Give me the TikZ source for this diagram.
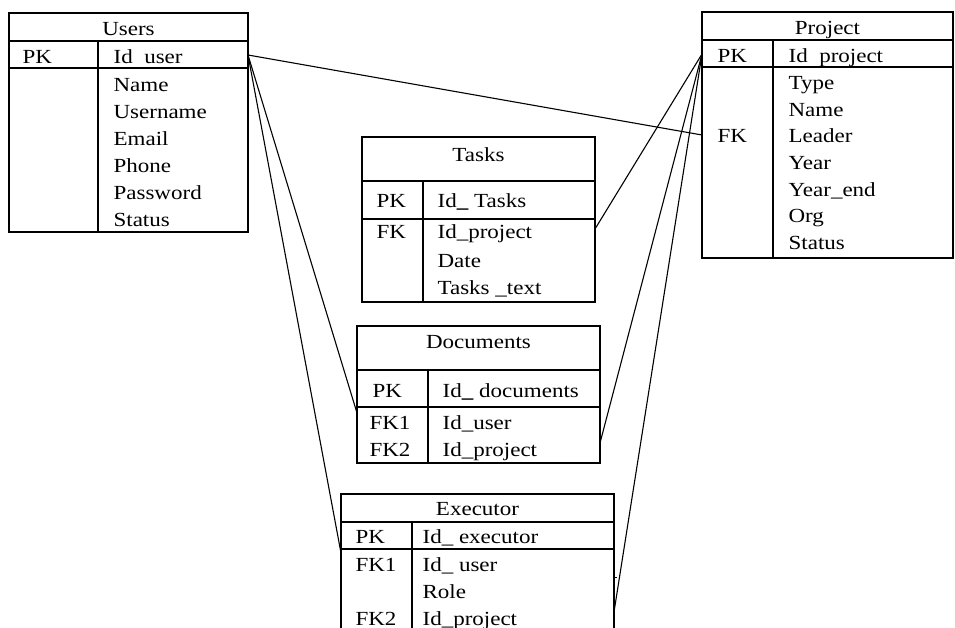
\documentclass[tikz,border=0pt]{standalone}
\usepackage{fontspec}
\setmainfont{Liberation Serif}[FakeStretch=1.15]
\begin{document}
\begin{tikzpicture}[x=1pt,y=-1pt,
  line width=1.2pt,
  tbl/.style={draw=black, line width=1.2pt},
  fld/.style={anchor=base west, inner sep=0pt, font=\fontsize{20}{22}\selectfont},
  ttl/.style={anchor=base, inner sep=0pt, font=\fontsize{20}{22}\selectfont},
  link/.style={draw=black, line width=1.1pt}]
\useasboundingbox (0,0) rectangle (955,628);

% ---------- Users ----------
\draw[tbl] (9,13) rectangle (248,232);
\draw[tbl] (9,41) -- (248,41) (9,68) -- (248,68) (98,41) -- (98,232);
\node[ttl] (usersT) at (128.5,36) {Users};
\node[fld] (usersPK) at (22,64) {PK};
\node[fld] (usersId) at (113,64) {Id\ \ user};
\node[fld] (usersF1) at (113,92) {Name};
\node[fld] (usersF2) at (113,119) {Username};
\node[fld] (usersF3) at (113,146) {Email};
\node[fld] (usersF4) at (113,173) {Phone};
\node[fld] (usersF5) at (113,200) {Password};
\node[fld] (usersF6) at (113,227) {Status};
\coordinate (usersLink) at (248,55);

% ---------- Project ----------
\draw[tbl] (702,12) rectangle (953,258);
\draw[tbl] (702,40) -- (953,40) (702,67) -- (953,67) (773,40) -- (773,258);
\node[ttl] (projT) at (827.5,35) {Project};
\node[fld] (projPK) at (717,63) {PK};
\node[fld] (projId) at (788,63) {Id\ \ project};
\node[fld] (projF1) at (788,90) {Type};
\node[fld] (projF2) at (788,117) {Name};
\node[fld] (projFK) at (717,143) {FK};
\node[fld] (projF3) at (788,143) {Leader};
\node[fld] (projF4) at (788,170) {Year};
\node[fld] (projF5) at (788,197) {Year\_end};
\node[fld] (projF6) at (788,223) {Org};
\node[fld] (projF7) at (788,250) {Status};
\coordinate (projLink) at (702,54);
\coordinate (projLeader) at (702,135);

% ---------- Tasks ----------
\draw[tbl] (362,137) rectangle (595,302);
\draw[tbl] (362,181) -- (595,181) (362,219) -- (595,219) (423,181) -- (423,303);
\node[ttl] (tasksT) at (478.5,162) {Tasks};
\node[fld] (tasksPK) at (376,208) {PK};
\node[fld] (tasksId) at (437,208) {Id\textbf{\_} Tasks};
\node[fld] (tasksFK) at (376,239) {FK};
\node[fld] (tasksF1) at (437,239) {Id\_project};
\node[fld] (tasksF2) at (437,267) {Date};
\node[fld] (tasksF3) at (437,294) {Tasks \_text};
\coordinate (tasksLink) at (595,229);

% ---------- Documents ----------
\draw[tbl] (357,326) rectangle (600,463);
\draw[tbl] (357,370) -- (600,370) (357,407) -- (600,407) (428,370) -- (428,463);
\node[ttl] (docsT) at (478.5,348) {Documents};
\node[fld] (docsPK) at (372,397) {PK};
\node[fld] (docsId) at (442,397) {Id\textbf{\_} documents};
\node[fld] (docsFK1) at (369,429) {FK1};
\node[fld] (docsF1) at (442,429) {Id\_user};
\node[fld] (docsFK2) at (369,456) {FK2};
\node[fld] (docsF2) at (442,456) {Id\_project};
\coordinate (docsUser) at (357,413);
\coordinate (docsProj) at (600,443);

% ---------- Executor (runs past the lower edge) ----------
\draw[tbl] (341,640) -- (341,494) -- (614,494) -- (614,640);
\draw[tbl] (341,522) -- (614,522) (341,549) -- (614,549) (412,522) -- (412,640);
\draw[line width=0.8pt] (614,577) -- (617,577);
\node[ttl] (execT) at (477.5,515) {Executor};
\node[fld] (execPK) at (355,543) {PK};
\node[fld] (execId) at (422,543) {Id\_ executor};
\node[fld] (execFK1) at (355,571) {FK1};
\node[fld] (execF1) at (422,571) {Id\_ user};
\node[fld] (execF2) at (422,598) {Role};
\node[fld] (execFK2) at (355,625) {FK2};
\node[fld] (execF3) at (422,625) {Id\_project};
\coordinate (execUser) at (341,553);
\coordinate (execProj) at (614,612);

% ---------- Relations ----------
\draw[link] (usersLink) -- (projLeader);
\draw[link] (usersLink) -- (docsUser);
\draw[link] (usersLink) -- (execUser);
\draw[link] (projLink) -- (tasksLink);
\draw[link] (projLink) -- (docsProj);
\draw[link] (projLink) -- (execProj);
\end{tikzpicture}
\end{document}
